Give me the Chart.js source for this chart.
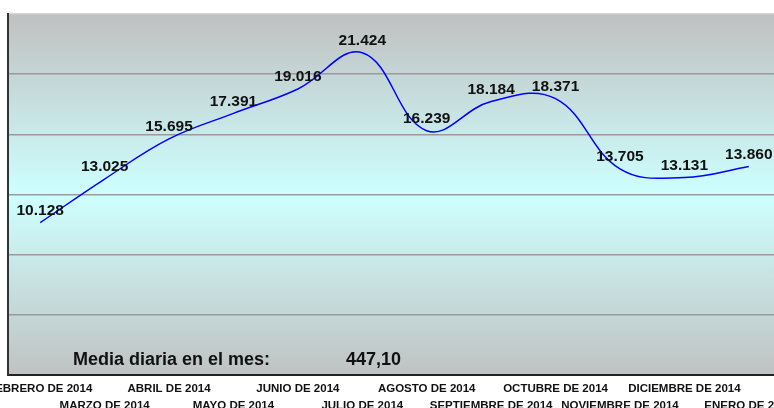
<!DOCTYPE html>
<html>
<head>
<meta charset="utf-8">
<script src="https://cdn.jsdelivr.net/npm/chart.js@4/dist/chart.umd.min.js"></script>
<style>
html,body{margin:0;padding:0;background:#fff;overflow:hidden;width:774px;height:408px;}
canvas{display:block;}
</style>
</head>
<body>
<canvas id="c" width="790" height="422"></canvas>
<script>
const categories = ['FEBRERO DE 2014','MARZO DE 2014','ABRIL DE 2014','MAYO DE 2014','JUNIO DE 2014','JULIO DE 2014','AGOSTO DE 2014','SEPTIEMBRE DE 2014','OCTUBRE DE 2014','NOVIEMBRE DE 2014','DICIEMBRE DE 2014','ENERO DE 2015'];
const values = [10128, 13025, 15695, 17391, 19016, 21424, 16239, 18184, 18371, 13705, 13131, 13860];
const yTicks = [0, 4000, 8000, 12000, 16000, 20000, 24000];
const summaryLabel = 'Media diaria en el mes:';
const summaryValue = '447,10';

const FONT = '"Liberation Sans", Arial, sans-serif';

function fmt(v){ return String(v).replace(/\B(?=(\d{3})+(?!\d))/g, '.'); }

const bgPlugin = {
  id: 'bg',
  beforeDraw(chart){
    const {ctx, chartArea:a} = chart;
    const g = ctx.createLinearGradient(0, a.top, 0, a.bottom);
    g.addColorStop(0, 'rgb(192,192,192)');
    g.addColorStop(0.5, 'rgb(206,255,255)');
    g.addColorStop(1, 'rgb(192,194,194)');
    ctx.save();
    ctx.fillStyle = g;
    ctx.fillRect(a.left, a.top, a.right - a.left, a.bottom - a.top);
    ctx.restore();
  }
};

const labelPlugin = {
  id: 'vlabels',
  afterDatasetsDraw(chart){
    const {ctx, chartArea:a} = chart;
    const meta = chart.getDatasetMeta(0);
    ctx.save();
    ctx.font = 'bold 15.5px ' + FONT;
    ctx.fillStyle = '#111';
    ctx.textAlign = 'center';
    ctx.textBaseline = 'middle';
    meta.data.forEach((pt, i) => {
      ctx.fillText(fmt(values[i]), pt.x, pt.y - 12);
    });
    ctx.font = 'bold 18px ' + FONT;
    ctx.textAlign = 'left';
    ctx.textBaseline = 'alphabetic';
    ctx.fillText(summaryLabel, a.left + 65, a.bottom - 10);
    ctx.fillText(summaryValue, a.left + 338, a.bottom - 10);
    ctx.restore();
  }
};

new Chart(document.getElementById('c'), {
  type: 'line',
  data: {
    labels: categories,
    datasets: [{
      data: values,
      borderColor: '#0000ff',
      borderWidth: 1.5,
      pointRadius: 0,
      tension: 0.4,
      fill: false
    }]
  },
  options: {
    responsive: false,
    animation: false,
    devicePixelRatio: 1,
    layout: { padding: { left: 8, top: 14, right: 9, bottom: 3 } },
    plugins: { legend: { display: false }, tooltip: { enabled: false } },
    scales: {
      x: {
        offset: true,
        afterFit(scale){ scale.paddingLeft = 0; scale.paddingRight = 0; },
        grid: { display: false, drawTicks: false },
        border: { display: true, color: '#222', width: 2 },
        ticks: {
          autoSkip: false,
          maxRotation: 0,
          minRotation: 0,
          padding: 5,
          color: '#111',
          font: { family: FONT, size: 11.5, weight: 'bold', lineHeight: 1.48 },
          callback: function(v, i){ return i % 2 === 0 ? categories[i] : ['', categories[i]]; }
        }
      },
      y: {
        min: 0,
        max: 24000,
        afterBuildTicks(scale){ scale.ticks = yTicks.map(v => ({value: v})); },
        grid: {
          drawTicks: false,
          color: (c) => c.tick && c.tick.value === 24000 ? '#d4d4d4' : (c.tick && c.tick.value === 0 ? 'rgba(0,0,0,0)' : '#9a9a9a'),
          lineWidth: 1.5
        },
        border: { display: true, color: '#333', width: 2 },
        ticks: { display: false }
      }
    }
  },
  plugins: [bgPlugin, labelPlugin]
});
</script>
</body>
</html>
